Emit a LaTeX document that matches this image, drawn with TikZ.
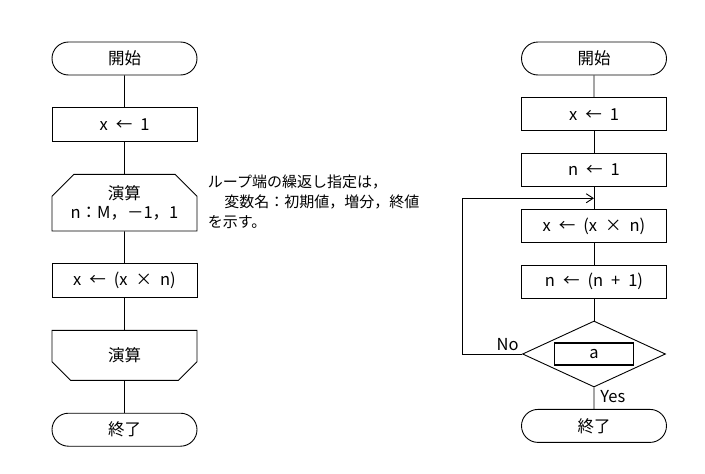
\documentclass[tikz,border=0pt]{standalone}
\usepackage{fontspec}
\setmainfont{Noto Sans CJK JP}
\usetikzlibrary{positioning,shapes.misc,shapes.geometric,arrows.meta}
\newcommand\widesp{\spaceskip=8pt\relax}
\begin{document}
\begin{tikzpicture}[x=1pt,y=1pt,line width=0.9pt,font=\fontsize{16.5pt}{19pt}\selectfont,execute at begin node=\widesp,
    term/.style={draw,rounded rectangle,minimum width=145pt,minimum height=33pt,inner sep=0pt},
    proc/.style={draw,rectangle,minimum width=145pt,minimum height=33.5pt,inner sep=0pt},
    lstart/.style={draw,chamfered rectangle,chamfered rectangle corners={north west,north east},chamfered rectangle xsep=11pt,chamfered rectangle ysep=11pt,minimum width=145pt,minimum height=50pt,inner sep=0pt,align=center},
    lend/.style={lstart,chamfered rectangle corners={south west,south east}},
    cond/.style={draw,diamond,aspect=2.17,minimum width=143pt,minimum height=66pt,inner sep=0pt},
    node distance={32pt}]
            \useasboundingbox (0,0) rectangle (705,-474);
            % left chart
            \node [term] (s1) at (124.5,-58.5) {開始};
            \node [proc] (a1) [below=of s1] {x ← 1};
            \node [lstart] (l1) [below=of a1] {演算\\n：M，－1，1};
            \node [proc] (a2) [below=of l1] {x ← (x × n)};
            \node [lend] (l2) [below=of a2] {演算};
            \node [term] (e1) [below=of l2] {終了};
            \draw[-] (s1)--(a1);
            \draw[-] (a1)--(l1);
            \draw[-] (l1)--(a2);
            \draw[-] (a2)--(l2);
            \draw[-] (l2)--(e1);
            \coordinate (c) at (l1.north -| l1.east);
            \node [anchor=north west,align=left,inner sep=0pt,font=\fontsize{15pt}{20pt}\selectfont] (note) at ([xshift=10pt,yshift=-1pt]c)
                {ループ端の繰返し指定は，\\\hspace*{1.1em}変数名：初期値，増分，終値\\を示す。};
            % right chart
            \begin{scope}[node distance={21.5pt}]
            \node [term] (s2) at (594,-58.5) {開始};
            \node [proc] (b1) [below=of s2] {x ← 1};
            \node [proc] (b2) [below=of b1] {n ← 1};
            \node [proc] (b3) [below=of b2] {x ← (x × n)};
            \node [proc] (b4) [below=of b3] {n ← (n + 1)};
            \node [cond] (d) [below=of b4] {};
            \node [term] (e2) [below=of d] {終了};
            \end{scope}
            \node [draw,line width=1.3pt,minimum width=79pt,minimum height=22pt,inner sep=0pt] (a) at (d) {a};
            \coordinate [below=11pt of b2] (m);
            \coordinate (k) at (462,0);
            \draw[-] (s2)--(b1);
            \draw[-] (b1)--(b2);
            \draw[-] (b2)--(b3);
            \draw[-] (b3)--(b4);
            \draw[-] (b4)--(d);
            \draw[-] (d)--(e2);
            \draw[-{Straight Barb[length=7pt,width=9pt]}] (d.west)--(d.west -| k) |- (m);
            \node [anchor=south east,inner sep=3pt] (no) at (d.west) {No};
            \node [anchor=north west,inner sep=3pt] (yes) at ([xshift=3pt]d.south) {Yes};
            \end{tikzpicture}
\end{document}
